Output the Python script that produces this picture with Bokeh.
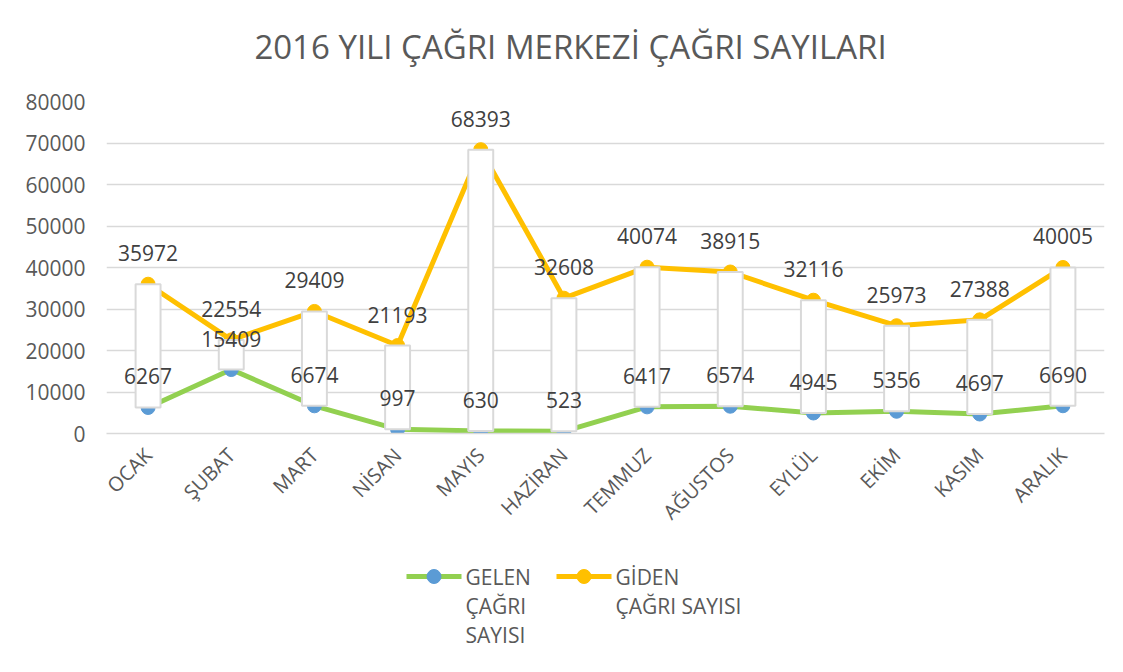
from bokeh.plotting import figure
from bokeh.models import Range1d, FactorRange, ColumnDataSource
from bokeh.layouts import column
from bokeh.core.properties import value
from bokeh.embed import file_html
from bokeh.resources import INLINE
import math

months = ["OCAK", "ŞUBAT", "MART", "NİSAN", "MAYIS", "HAZİRAN", "TEMMUZ",
          "AĞUSTOS", "EYLÜL", "EKİM", "KASIM", "ARALIK"]
gelen = [6267, 15409, 6674, 997, 630, 523, 6417, 6574, 4945, 5356, 4697, 6690]
giden = [35972, 22554, 29409, 21193, 68393, 32608, 40074, 38915, 32116, 25973, 27388, 40005]
y_ticks = [0, 10000, 20000, 30000, 40000, 50000, 60000, 70000, 80000]
title_text = "2016 YILI ÇAĞRI MERKEZİ ÇAĞRI SAYILARI"
gelen_lines = ["GELEN", "ÇAĞRI", "SAYISI"]
giden_lines = ["GİDEN", "ÇAĞRI SAYISI"]

FONT = "Open Sans"
GREEN = "#92D050"
BLUE = "#5B9BD5"
ORANGE = "#FFC000"
GRID = "#D9D9D9"
TXT = "#595959"
W = 1120


def strip(h):
    f = figure(width=W, height=h, x_range=Range1d(107, 1105), y_range=Range1d(h, 0),
               output_backend="svg", toolbar_location=None, min_border=0,
               x_axis_location=None, y_axis_location=None)
    f.grid.grid_line_color = None
    f.outline_line_color = None
    return f


# title strip
T = 70
tf = strip(T)
tf.text([571], [46], text=[title_text], text_align="center", text_baseline="middle",
        text_font=value(FONT), text_font_size="33px", text_color=TXT)

src = ColumnDataSource(dict(
    m=months, gelen=gelen, giden=giden,
    lo=[min(a, b) for a, b in zip(gelen, giden)],
    hi=[max(a, b) for a, b in zip(gelen, giden)],
    gl=[str(v) for v in gelen], gd=[str(v) for v in giden],
))

p = figure(x_range=FactorRange(*months), y_range=Range1d(0, 80000),
           width=W, height=470, output_backend="svg", toolbar_location=None,
           min_border_left=106, min_border_right=16, min_border_top=31, min_border_bottom=107)

p.outline_line_color = None
p.xgrid.grid_line_color = None
p.ygrid.grid_line_color = GRID
p.ygrid.grid_line_width = 1.5
p.yaxis.ticker = y_ticks
p.yaxis.axis_line_color = None
p.yaxis.major_tick_line_color = None
p.yaxis.minor_tick_line_color = None
p.yaxis.major_label_text_font = FONT
p.yaxis.major_label_text_font_size = "21px"
p.yaxis.major_label_text_color = TXT
p.yaxis.major_label_standoff = 15
p.xaxis.axis_line_color = GRID
p.xaxis.axis_line_width = 1.5
p.xaxis.major_tick_line_color = None
p.xaxis.minor_tick_line_color = None
p.xaxis.major_label_text_font = FONT
p.xaxis.major_label_text_font_size = "20px"
p.xaxis.major_label_text_color = TXT
p.xaxis.major_label_orientation = math.pi / 4
p.xaxis.major_label_standoff = 12

p.line("m", "gelen", source=src, line_color=GREEN, line_width=5)
p.line("m", "giden", source=src, line_color=ORANGE, line_width=5)
p.scatter("m", "gelen", source=src, size=14, fill_color=BLUE, line_color=BLUE)
p.scatter("m", "giden", source=src, size=14, fill_color=ORANGE, line_color=ORANGE)

p.vbar(x="m", bottom="lo", top="hi", width=0.3, source=src,
       fill_color="white", line_color=GRID, line_width=2)

for col in ["gl", "gd"]:
    ycol = "gelen" if col == "gl" else "giden"
    p.text(x="m", y=ycol, text=col, source=src, text_align="center",
           text_baseline="middle", y_offset=-31, text_font=value(FONT),
           text_font_size="21px", text_color="#404040")

# legend strip below the chart
H2 = 128
lg = strip(H2)


def legend_entry(x0, lines, lcol, mcol):
    y0 = 36
    lg.line([x0, x0 + 55], [y0, y0], line_color=lcol, line_width=5)
    lg.scatter([x0 + 27.5], [y0], size=14, fill_color=mcol, line_color=mcol)
    lg.text([x0 + 59] * len(lines), [y0 + 29 * i for i in range(len(lines))], text=lines,
            text_baseline="middle", text_align="left", text_font=value(FONT),
            text_font_size="21px", text_color=TXT)


legend_entry(407, gelen_lines, GREEN, BLUE)
legend_entry(557, giden_lines, ORANGE, ORANGE)

layout = column(tf, p, lg, spacing=0)
open("out.html", "w").write(file_html(layout, INLINE))
